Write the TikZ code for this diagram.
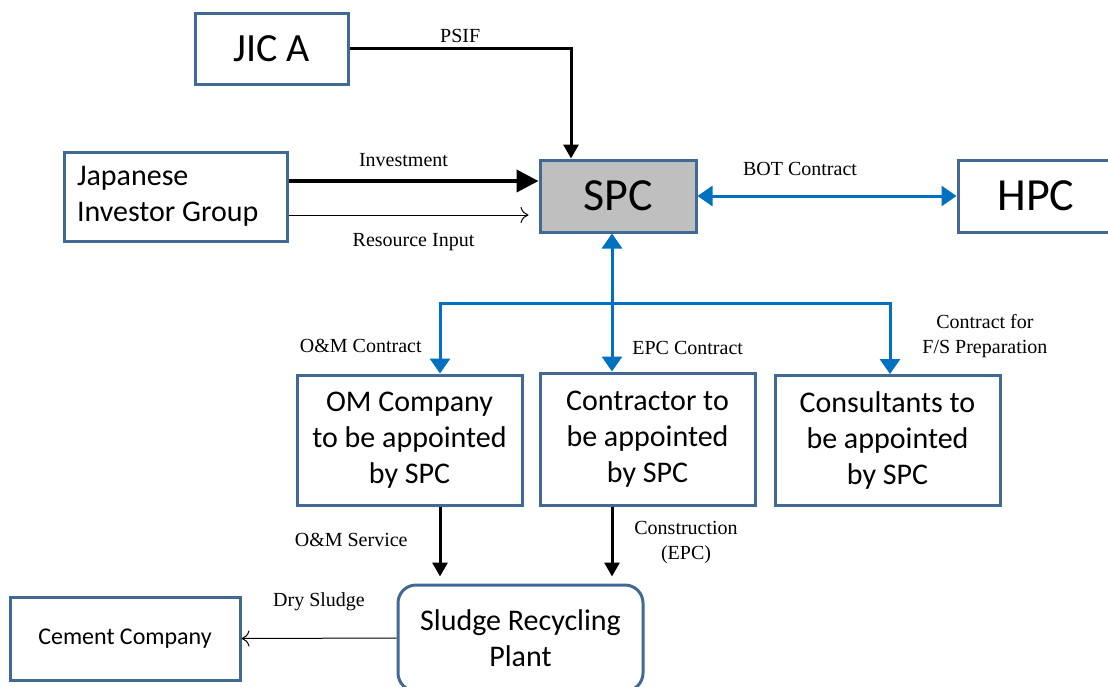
\documentclass[tikz,border=0pt]{standalone}
\usepackage{fontspec}
\setmainfont{Liberation Serif}
\newfontfamily\calib[WordSpace=0.55]{Carlito}
\newfontfamily\calibwide{Carlito}
\usetikzlibrary{arrows.meta,positioning}
\definecolor{boxline}{RGB}{65,105,150}
\definecolor{contractblue}{RGB}{0,112,192}
\definecolor{spcgray}{RGB}{191,191,191}

\begin{document}
\begin{tikzpicture}[x=0.5pt,y=-0.5pt,
                block/.style={draw=boxline, line width=1.5pt, fill=white, inner sep=0pt,
                              align=center, font=\calib\fontsize{15}{18}\selectfont},
                lbl/.style={font=\fontsize{10}{12.5}\selectfont, align=center, inner sep=1pt},
                flow/.style={line width=1.5pt, -{Triangle[length=7pt,width=7.5pt]}},
                bigflow/.style={line width=2pt, -{Triangle[length=11pt,width=11pt]}},
                thinflow/.style={line width=0.5pt, -{To[length=4pt,width=8pt]}},
                contract/.style={draw=contractblue, line width=1.5pt}
            ]
            \useasboundingbox (0,0) rectangle (1108,686);
            \node[block, minimum width=76.5pt, minimum height=35.5pt,
                  font=\calib\fontsize{20}{24}\selectfont] (jica) at (271.5,48.5) {JIC A};
            \node[block, align=flush left, text width=98.5pt, inner xsep=6.5pt, minimum height=44.5pt] (jig) at (175.5,196.5) {Japanese\\Investor Group};
            \node[block, fill=spcgray, minimum width=78pt, minimum height=36pt,
                  font=\calib\fontsize{23}{26}\selectfont] (spc) at (618,196) {SPC};
            \node[block, minimum width=78pt, minimum height=36pt,
                  font=\calib\fontsize{23}{26}\selectfont] (hpc) at (1036,196) {HPC};
            \node[block, minimum width=112.5pt, minimum height=65pt] (om) at (409.5,440) {OM Company\\to be appointed\\by SPC};
            \node[block, minimum width=107.5pt, minimum height=66pt] (cont) at (647.5,439) {Contractor to\\be appointed\\by SPC};
            \node[block, minimum width=112.5pt, minimum height=65pt] (cons) at (887.5,440.5) {Consultants to\\be appointed\\by SPC};
            \node[block, rounded corners=9pt, minimum width=122.5pt, minimum height=53pt] (sludge) at (520.5,638) {Sludge Recycling\\Plant};
            \node[block, minimum width=115pt, minimum height=41.5pt,
                  font=\calibwide\fontsize{12}{14}\selectfont] (cement) at (125,638.5) {Cement Company};

            \draw[flow] (jica.east) -| ([xshift=-23.5pt]spc.north) node[lbl, pos=0.25, above=1pt] {PSIF};
            \draw[bigflow] ([yshift=7.75pt]jig.east) -- ([yshift=7.5pt]spc.west) node[lbl, midway, above=5pt, xshift=-5pt] {Investment};
            \draw[thinflow, shorten >=5pt] ([yshift=-9.25pt]jig.east) -- ([yshift=-9.5pt]spc.west) node[lbl, midway, below=8pt] {Resource Input};
            \draw[contract, {Triangle[length=7.5pt,width=10pt]}-{Triangle[length=7.5pt,width=10pt]}] (spc.east) -- (hpc.west)
                node[lbl, midway, above=8.5pt, xshift=-13.5pt, black] {BOT Contract};

            \coordinate (spcfoot) at ([xshift=-3pt]spc.south);
            \coordinate (bus) at ([yshift=-35pt]spcfoot);
            \coordinate (omtop) at ([xshift=15.25pt]om.north);
            \coordinate (conttop) at (spcfoot |- cont.north);
            \coordinate (constop) at ([xshift=1.25pt]cons.north);
            \coordinate (omfoot) at (omtop |- om.south);
            \coordinate (contfoot) at (conttop |- cont.south);

            \draw[contract, {Triangle[length=7.5pt,width=10pt]}-{Triangle[length=7.5pt,width=10pt]}] (spcfoot) -- (conttop);
            \draw[contract, {Triangle[length=7.5pt,width=10pt]}-{Triangle[length=7.5pt,width=10pt]}] (omtop) |- (bus) -| (constop);
            \node[lbl, anchor=south east] at ([xshift=-8pt,yshift=9pt]omtop) {O\&M Contract};
            \node[lbl, anchor=south west] at ([xshift=9pt,yshift=7pt]conttop) {EPC Contract};
            \node[lbl, anchor=south west] at ([xshift=15pt,yshift=7pt]constop) {Contract for\\F/S Preparation};

            \draw[flow, shorten >=3.5pt] (omfoot) -- (omfoot |- sludge.north);
            \draw[flow, shorten >=3.5pt] (contfoot) -- (contfoot |- sludge.north);
            \node[lbl, anchor=east] at ([xshift=-15pt,yshift=-16.5pt]omfoot) {O\&M Service};
            \node[lbl, anchor=west] at ([xshift=10pt,yshift=-18pt]contfoot) {Construction\\(EPC)};
            \draw[thinflow] (sludge.west) -- (cement.east) node[lbl, midway, above=12.5pt] {Dry Sludge};
            \end{tikzpicture}
\end{document}
